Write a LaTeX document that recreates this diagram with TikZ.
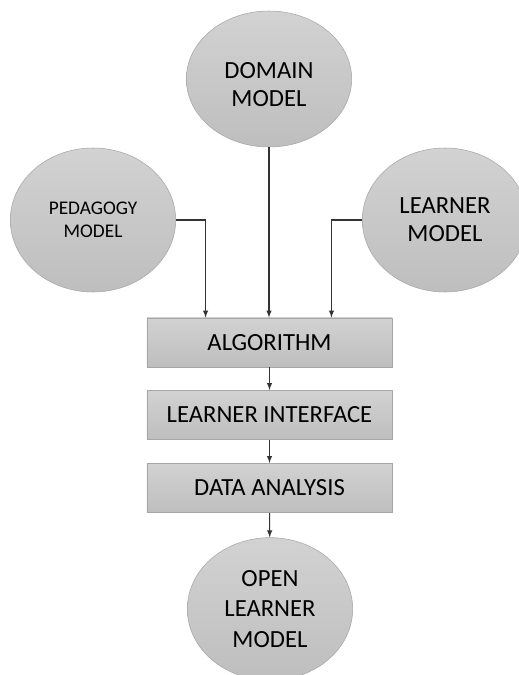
\documentclass[tikz,border=0pt]{standalone}
\usepackage{fontspec}
\setmainfont{Carlito}
\usepackage{tikz}
\usetikzlibrary{arrows, shapes, calc}

\definecolor{boxtop}{HTML}{D2D2D2}
\definecolor{boxbot}{HTML}{BEBEBE}
\definecolor{boxline}{HTML}{A6A6A6}
\definecolor{arrline}{HTML}{333333}

\tikzset{
    model/.style={ellipse, draw=boxline, top color=boxtop, bottom color=boxbot, minimum width=124pt, minimum height=102pt, align=center, inner sep=0pt, font=\fontsize{18.5}{21}\selectfont},
    stage/.style={rectangle, draw=boxline, top color=boxtop, bottom color=boxbot, minimum width=184pt, minimum height=37pt, inner sep=0pt, font=\fontsize{18.5}{21}\selectfont},
    arr/.style={->, >=latex, draw=arrline, line width=0.8pt}
}

\begin{document}
\begin{tikzpicture}[x=0.75pt, y=-0.75pt]
    \useasboundingbox (0,0) rectangle (518,675);
    % the three source models
    \node[model] (domain) at (269, 79) {\rule{0pt}{20pt}DOMAIN\\MODEL};
    \node[model, minimum height=108pt, font=\fontsize{14.5}{17.5}\selectfont] (pedagogy) at (93, 220) {PEDAGOGY\\MODEL};
    \node[model, minimum height=108pt] (learner) at (445, 220) {LEARNER\\MODEL};
    % processing chain
    \node[stage] (algorithm) at (269.5, 342.5) {ALGORITHM};
    \node[stage] (interface) at (269.5, 415) {LEARNER INTERFACE};
    \node[stage] (analysis) at (269.5, 488) {DATA ANALYSIS};
    \node[model, minimum height=107pt, font=\fontsize{18.5}{23}\selectfont] (open) at (270, 609) {OPEN\\LEARNER\\MODEL};
    % connectors
    \draw[arr] (pedagogy.east) -| ($(algorithm.north west)!0.24!(algorithm.north east)$);
    \draw[arr] (domain.south) -- (domain.south |- algorithm.north);
    \draw[arr] (learner.west) -| ($(algorithm.north west)!0.752!(algorithm.north east)$);
    \foreach \a/\b in {algorithm/interface, interface/analysis, analysis/open} {
        \draw[arr] (\a) -- (\b);
    }
\end{tikzpicture}
\end{document}
